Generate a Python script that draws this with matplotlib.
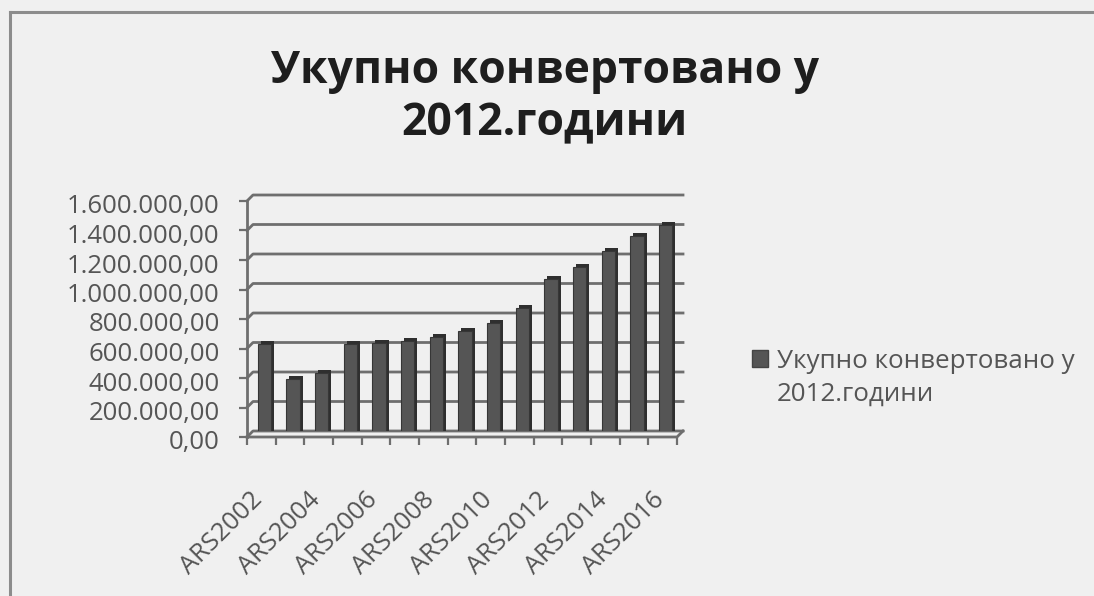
import matplotlib
matplotlib.use("Agg")
import matplotlib.pyplot as plt
from matplotlib.patches import Patch
from matplotlib.lines import Line2D
from matplotlib.transforms import ScaledTranslation

plt.rcParams['font.family'] = ['Open Sans', 'DejaVu Sans']

# data
categories = ["ARS2002", "ARS2003", "ARS2004", "ARS2005", "ARS2006", "ARS2007",
              "ARS2008", "ARS2009", "ARS2010", "ARS2011", "ARS2012", "ARS2013",
              "ARS2014", "ARS2015", "ARS2016"]
values = [610000, 370000, 415000, 610000, 615000, 630000, 660000, 700000,
          755000, 855000, 1050000, 1135000, 1240000, 1340000, 1420000]
y_ticks = [0, 200000, 400000, 600000, 800000, 1000000, 1200000, 1400000, 1600000]
series_name = "Укупно конвертовано у\n2012.години"


def fmt(v):
    # 1.600.000,00 style
    return f"{v:,.2f}".replace(",", " ").replace(".", ",").replace(" ", ".")


W, H = 1094, 596
fig = plt.figure(figsize=(W / 100, H / 100), dpi=100, facecolor="#f0f0f0")

# chart area border (only top and left visible)
fig.add_artist(Line2D([10 / W, 1], [1 - 12 / H, 1 - 12 / H], color="#8c8c8c", lw=2.2))
fig.add_artist(Line2D([10 / W, 10 / W], [0, 1 - 12 / H], color="#8c8c8c", lw=2.2))

# back wall of the pseudo 3d plot
ax_l, ax_t, ax_w, ax_h = 253, 195, 430, 236
ax = fig.add_axes([ax_l / W, 1 - (ax_t + ax_h) / H, ax_w / W, ax_h / H])
ax.set_facecolor("none")
for s in ax.spines.values():
    s.set_visible(False)

n = len(categories)
xl, xr = -0.5, n - 0.5
ax.set_xlim(xl, xr)
ax.set_ylim(0, y_ticks[-1])

depth = 6  # px
ddx = depth * (xr - xl) / ax_w
ddy = depth * y_ticks[-1] / ax_h
grid_c = "#6e6e6e"

# gridlines with small connector to the front axis
for t in y_ticks:
    ax.plot([xl - ddx, xl, xr], [t - ddy, t, t], color=grid_c, lw=2, clip_on=False, zorder=1)

# front y axis and floor edge
ax.plot([xl - ddx, xl - ddx], [-ddy, y_ticks[-1] - ddy], color=grid_c, lw=2, clip_on=False)
ax.plot([xl - ddx, xr - ddx, xr], [-ddy, -ddy, 0], color=grid_c, lw=2, clip_on=False)
ax.plot([xl - ddx] * len(y_ticks), [t - ddy for t in y_ticks], ls="none", marker=0,
        ms=6, mew=1.6, color=grid_c, clip_on=False)
ax.plot([k - 0.5 - ddx for k in range(n + 1)], [-ddy] * (n + 1), ls="none", marker=3,
        ms=6, mew=1.6, color=grid_c, clip_on=False)

# bars: dark back copy gives the side, front face shifted half the depth
x = list(range(n))
ax.bar(x, values, width=0.46, color="#2f2f2f", zorder=3)
front = ax.transData + ScaledTranslation(-3 / 100, -3 / 100, fig.dpi_scale_trans)
ax.bar(x, values, width=0.46, color="#555555", edgecolor="#363636", lw=0.8,
       transform=front, zorder=4)

# y tick labels
ax.set_yticks(y_ticks, labels=[fmt(t) for t in y_ticks])
ax.tick_params(axis="y", length=0, pad=24, labelsize=18.5, labelcolor="#555555")
ytr = ScaledTranslation(0, -9 / 100, fig.dpi_scale_trans)
for lab in ax.get_yticklabels():
    lab.set_transform(lab.get_transform() + ytr)

# x labels every second category, in front of and below the floor
ax.set_xticks([])
xtr = ax.transData + ScaledTranslation(-17 / 100, -56 / 100, fig.dpi_scale_trans)
for i in x[::2]:
    ax.text(i, 0, categories[i], transform=xtr, rotation=45, ha="right", va="top",
            rotation_mode="anchor", fontsize=18.5, color="#555555")

# title
fig.text(0.498, 1 - 98 / H, series_name, ha="center", va="center", fontsize=32,
         fontweight="bold", color="#1e1e1e", linespacing=1.22)

# legend: square beside the first line only
lines = series_name.split("\n")
handles = [Patch(facecolor="#555555", edgecolor="#444444"),
           Patch(facecolor="none", edgecolor="none")]
fig.legend(handles, lines, loc="upper left", bbox_to_anchor=(752 / W, 1 - 349 / H),
           bbox_transform=fig.transFigure, frameon=False, fontsize=18.7,
           handlelength=0.62, handleheight=0.62, handletextpad=0.35,
           labelspacing=0.3, borderpad=0, borderaxespad=0, labelcolor="#555555")

fig.savefig("out.png", dpi=100, facecolor=fig.get_facecolor())
